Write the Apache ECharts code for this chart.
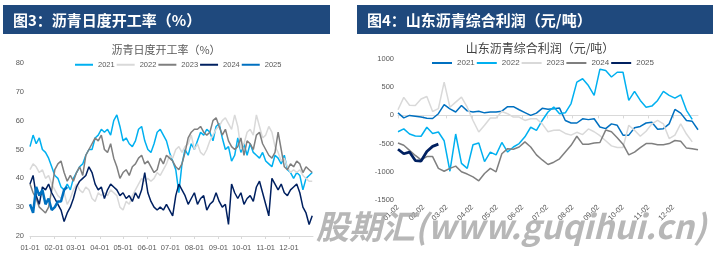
<!DOCTYPE html>
<html>
<head>
<meta charset="utf-8">
<script src="https://cdn.jsdelivr.net/npm/echarts@6/dist/echarts.min.js"></script>
<style>
  html, body { margin: 0; padding: 0; background: #fff; }
  #main { width: 716px; height: 257px; }
</style>
</head>
<body>
<div id="main"></div>
<script>
// 图3 沥青日度开工率，每4天取一个点（第0天=01-01）
const rateStep = 4
const rateMonthDays = [0, 31, 59, 90, 120, 151, 181, 212, 243, 273, 304, 334]
const rateMonthLabels = ['01-01', '02-01', '03-01', '04-01', '05-01', '06-01', '07-01', '08-01', '09-01', '10-01', '11-01', '12-01']
const rateYears = ['2021', '2022', '2023', '2024', '2025']

const rate2021 = [51, 55, 52, 54, 50, 49, 47, 44, 41, 40, 37, 36, 38, 36, 40, 42, 44, 45, 48, 50,
  50, 54, 55, 57, 56, 57, 55, 60, 62, 58, 53, 54, 52, 51, 53, 57, 58, 53, 50, 49,
  52, 56, 57, 55, 53, 49, 46, 43, 35, 45, 50, 48, 52, 50, 53, 56, 55, 57, 56, 53,
  58, 59, 54, 50, 51, 46, 48, 54, 49, 52, 48, 52, 49, 48, 47, 49, 46, 45, 44, 48,
  47, 45, 48, 43, 42, 40, 42, 41, 36, 40, 41, 42]
const rate2022 = [43, 45, 44, 42, 43, 40, 41, 38, 36, 34, 33, 35, 31, 33, 36, 38, 36, 35, 37, 36,
  33, 32, 35, 34, 35, 34, 36, 35, 34, 30, 29, 32, 31, 34, 36, 38, 40, 39, 40, 39,
  40, 42, 41, 43, 45, 48, 47, 50, 51, 49, 51, 52, 55, 50, 52, 49, 48, 50, 53, 55,
  57, 58, 60, 61, 59, 57, 62, 58, 50, 52, 56, 57, 55, 62, 58, 54, 55, 58, 56, 51,
  49, 46, 47, 44, 42, 43, 42, 43, 41, 40, 39, 39]
const rate2023 = [38, 35, 33, 30, 29, 28, 30, 36, 43, 45, 46, 42, 39, 41, 39, 42, 44, 41, 48, 50,
  52, 54, 53, 55, 50, 49, 52, 47, 44, 40, 42, 43, 41, 44, 45, 47, 48, 45, 46, 44,
  42, 43, 47, 45, 48, 47, 46, 44, 43, 45, 49, 54, 56, 57, 57, 58, 56, 55, 56, 60,
  61, 58, 55, 57, 53, 51, 50, 51, 54, 48, 53, 52, 50, 55, 56, 52, 50, 48, 47, 49,
  56, 50, 44, 43, 45, 44, 46, 45, 42, 44, 43, 42]
const rate2024 = [38, 41, 34, 31, 37, 36, 38, 35, 33, 31, 29, 25, 28, 30, 33, 37, 39, 40, 41, 44,
  42, 38, 36, 37, 33, 36, 38, 37, 36, 34, 35, 33, 34, 32, 35, 33, 36, 42, 35, 32,
  30, 29, 30, 29, 31, 29, 27, 34, 38, 36, 34, 31, 33, 35, 31, 33, 34, 29, 31, 32,
  35, 32, 30, 31, 24, 38, 35, 33, 35, 31, 33, 34, 32, 37, 39, 35, 31, 27, 40, 38,
  36, 38, 35, 34, 36, 37, 38, 35, 30, 28, 24, 27]
const rate2025 = [31, 28, 37, 34, 36, 31, 33, 29, 30, 32, 32, 36, 37]
const rateColors = ['#00b0f0', '#d9d9d9', '#7f7f7f', '#002060', '#0070c0']

// 图4 山东沥青综合利润，周度（第1天=01-02）
const profitStep = 7
const profitStart = 1
const profitMonthDays = [1, 32, 60, 91, 121, 152, 182, 213, 244, 274, 305, 335]
const profitMonthLabels = ['01-02', '02-02', '03-02', '04-02', '05-02', '06-02', '07-02', '08-02', '09-02', '10-02', '11-02', '12-02']
const profitYears = ['2021', '2022', '2023', '2024', '2025']

const profit2021 = [45, -45, 0, -15, -30, -50, -55, 30, 190, 115, 60, 175, 80, 60, 75, 45, 60, 60, 75, 155,
  155, 100, 50, 0, 40, 125, 110, 120, 130, -90, -135, -135, -60, -75, -60, -205, -235, -150, -175, -350,
  -350, -220, -195, -135, -120, -245, -235, -150, 105, 40, -90, -105, -255]
const profit2022 = [-290, -240, -330, -365, -370, -210, -320, -295, -450, -990, -330, -850, -940, -520, -490, -820, -650, -700, -480, -650,
  -560, -500, -380, -210, -265, -90, 60, 150, 30, 45, 210, 590, 650, 530, 355, 820, 795, 680, 765, 765,
  265, 425, 265, 145, 165, 265, 425, 355, 305, 365, 90, -70]
const profit2023 = [100, 320, 180, 175, 290, 335, 70, 120, 590, 145, 235, 325, 145, -90, -295, -175, -45, -45, 70, 30,
  -30, -30, -90, -60, -60, -150, -290, -265, -260, -320, -350, -300, -340, -240, -290, -360, -450, -540, -570, -570,
  -175, -265, -370, -280, -150, -90, -150, -410, -350, -150, -330, -470]
const profit2024 = [-490, -530, -620, -710, -790, -730, -730, -940, -990, -940, -900, -1000, -1040, -1090, -1160, -1030, -940, -1000, -680, -590,
  -600, -560, -470, -560, -700, -790, -870, -830, -770, -650, -530, -370, -510, -510, -490, -480, -260, -290, -395, -510,
  -700, -650, -570, -500, -500, -520, -520, -500, -445, -460, -580, -590, -610]
const profit2025 = [-600, -680, -650, -800, -810, -640, -550, -510]
const profitColors = ['#0070c0', '#00b0f0', '#d9d9d9', '#7f7f7f', '#002060']

const labelColor = '#595959'
const font = '"Liberation Sans", "Noto Sans CJK SC", sans-serif'

function toPoints(values, start, step) {
  return values.map((v, i) => [start + i * step, v])
}

const rateData = [rate2021, rate2022, rate2023, rate2024, rate2025]
const profitData = [profit2021, profit2022, profit2023, profit2024, profit2025]

const series = []
rateYears.forEach((y, i) => {
  series.push({
    name: y,
    type: 'line',
    xAxisIndex: 0,
    yAxisIndex: 0,
    symbol: 'none',
    data: toPoints(rateData[i], 0, rateStep),
    lineStyle: { color: rateColors[i], width: i === 4 ? 2.5 : 1.5 },
    itemStyle: { color: rateColors[i] }
  })
})
// 右图系列名后加空格，避免与左图图例联动
profitYears.forEach((y, i) => {
  series.push({
    name: y + ' ',
    type: 'line',
    xAxisIndex: 1,
    yAxisIndex: 1,
    symbol: 'none',
    data: toPoints(profitData[i], profitStart, profitStep),
    lineStyle: { color: profitColors[i], width: i === 4 ? 2.8 : 1.5 },
    itemStyle: { color: profitColors[i] }
  })
})

const chart = echarts.init(document.getElementById('main'))
chart.setOption({
  animation: false,
  backgroundColor: '#fff',
  textStyle: { fontFamily: font },
  grid: [
    { left: 30, top: 63, width: 283, height: 173 },
    { left: 398, top: 59, width: 300, height: 141 }
  ],
  legend: [
    {
      data: rateYears,
      left: 75, top: 61,
      icon: 'rect', itemWidth: 18, itemHeight: 2, itemGap: 2, padding: 0,
      textStyle: { fontSize: 7.5, color: labelColor }
    },
    {
      data: profitYears.map(y => y + ' '),
      formatter: n => n.trim(),
      left: 432, top: 59,
      icon: 'rect', itemWidth: 20, itemHeight: 2, itemGap: 2, padding: 0,
      textStyle: { fontSize: 8, color: labelColor }
    }
  ],
  xAxis: [
    {
      type: 'value', gridIndex: 0, min: 0, max: 365,
      axisLine: { onZero: false, lineStyle: { color: '#d9d9d9' } },
      axisTick: { show: true, customValues: rateMonthDays, length: 3, lineStyle: { color: '#d9d9d9' } },
      axisLabel: {
        customValues: rateMonthDays,
        formatter: v => rateMonthLabels[rateMonthDays.indexOf(v)],
        fontSize: 7.5, color: labelColor, margin: 8
      },
      splitLine: { show: false }
    },
    {
      type: 'value', gridIndex: 1, min: 1, max: 365, position: 'bottom',
      axisLine: { show: false, onZero: false },
      axisTick: { show: false },
      axisLabel: {
        customValues: profitMonthDays,
        formatter: v => profitMonthLabels[profitMonthDays.indexOf(v)],
        rotate: 45, fontSize: 7.5, color: labelColor, margin: 6
      },
      splitLine: { show: false }
    },
    {
      type: 'value', gridIndex: 1, min: 1, max: 365, position: 'bottom',
      axisLine: { show: true, onZero: true, lineStyle: { color: '#d9d9d9' } },
      axisTick: { show: true, customValues: profitMonthDays, length: 3, lineStyle: { color: '#d9d9d9' } },
      axisLabel: { show: false },
      splitLine: { show: false }
    }
  ],
  yAxis: [
    {
      type: 'value', gridIndex: 0, min: 20, max: 80, interval: 10,
      axisLine: { show: false }, axisTick: { show: false }, splitLine: { show: false },
      axisLabel: { fontSize: 7.5, color: labelColor, margin: 6 }
    },
    {
      type: 'value', gridIndex: 1, min: -1500, max: 1000, interval: 500,
      axisLine: { show: false }, axisTick: { show: false }, splitLine: { show: false },
      axisLabel: { fontSize: 7.5, color: labelColor, margin: 4, formatter: v => String(v) }
    }
  ],
  graphic: [
    { type: 'rect', shape: { x: 3, y: 5, width: 327, height: 29 }, style: { fill: '#1f497d' } },
    { type: 'text', x: 13, y: 20, style: { text: '图3：沥青日度开工率（%）', fill: '#fff', font: 'bold 15px "Noto Sans CJK SC"', verticalAlign: 'middle' } },
    { type: 'rect', shape: { x: 357, y: 5, width: 356, height: 29 }, style: { fill: '#1f497d' } },
    { type: 'text', x: 367, y: 20, style: { text: '图4：山东沥青综合利润（元/吨）', fill: '#fff', font: 'bold 15px "Noto Sans CJK SC"', verticalAlign: 'middle' } },
    { type: 'text', x: 166, y: 50, style: { text: '沥青日度开工率（%）', fill: labelColor, font: '11px "Noto Sans CJK SC"', align: 'center', verticalAlign: 'middle' } },
    { type: 'text', x: 540, y: 48, style: { text: '山东沥青综合利润（元/吨）', fill: '#404040', font: '12px "Noto Sans CJK SC"', align: 'center', verticalAlign: 'middle' } },
    { type: 'text', x: 316, y: 226, z: 100, style: { text: '股期汇(www.guqihui.cn)', fill: 'rgba(165,165,165,0.8)', font: 'italic bold 33px "Noto Sans CJK SC"', verticalAlign: 'middle' } }
  ],
  series: series
})
</script>
</body>
</html>
